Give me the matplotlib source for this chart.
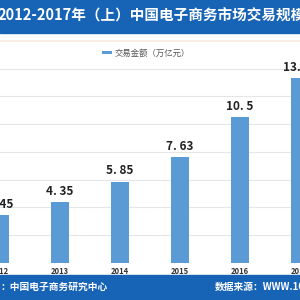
import matplotlib
matplotlib.use("Agg")
import matplotlib.pyplot as plt
from matplotlib.patches import Rectangle

plt.rcParams['font.family'] = ['Noto Sans CJK SC', 'DejaVu Sans']

years = ['2012', '2013', '2014', '2015', '2016', '2017']
values = [3.45, 4.35, 5.85, 7.63, 10.5, 13.35]
title = '2012-2017年（上）中国电子商务市场交易规模'
legend_label = '交易金额（万亿元）'
source_left = '：中国电子商务研究中心'
source_right = '数据来源：WWW.100EC.CN'

banner_blue = '#1763b6'
bar_blue = '#5b9bd5'


def main():
    fig = plt.figure(figsize=(3, 3), dpi=100)
    fig.patch.set_facecolor('white')

    # top and bottom banners
    fig.patches.append(Rectangle((0, 0.89), 1, 0.11, transform=fig.transFigure,
                                 color=banner_blue, zorder=0))
    fig.patches.append(Rectangle((0, 0), 1, 0.082, transform=fig.transFigure,
                                 color=banner_blue, zorder=0))
    fig.text(-0.008, 0.948, title, color='white', fontsize=10.5,
             fontweight='bold', va='center', ha='left')
    fig.text(0.0, 0.044, source_left, color='white', fontsize=7,
             fontweight='bold', va='center', ha='left')
    fig.text(0.715, 0.044, source_right, color='white', fontsize=7,
             fontweight='bold', va='center', ha='left')

    ax = fig.add_axes([0, 0.1243, 1, 0.739])
    x = list(range(len(years)))
    bars = ax.bar(x, values, width=0.3, color=bar_blue, zorder=3,
                  label=legend_label)
    for rect, v in zip(bars, values):
        ax.annotate(str(v).replace('.', '. '),
                    (rect.get_x() + rect.get_width() / 2, v),
                    xytext=(0, 3), textcoords='offset points',
                    ha='center', va='bottom', fontsize=8.5,
                    fontweight='bold', color='#222222', zorder=4)

    ax.set_xlim(0.126, 4.85)
    ax.set_ylim(0, 16)
    ax.set_yticks(range(2, 16, 2))
    ax.yaxis.grid(True, color='#e6e6e6', linewidth=0.8, zorder=0)
    ax.tick_params(axis='y', length=0, labelleft=False)
    ax.set_xticks(x)
    ax.set_xticklabels(years, fontsize=5.5, fontweight='bold', color='#333333')
    ax.tick_params(axis='x', length=0, pad=3)
    for side in ['left', 'right', 'bottom']:
        ax.spines[side].set_visible(False)
    ax.spines['top'].set_color('#fbe9df')
    ax.spines['top'].set_linewidth(1.2)

    leg = ax.legend(loc='center left', bbox_to_anchor=(0.315, 0.823),
                    bbox_transform=fig.transFigure, frameon=False,
                    fontsize=6, handlelength=1.2, handleheight=0.25,
                    handletextpad=0.3)
    for t in leg.get_texts():
        t.set_color('#555555')

    fig.savefig('out.png', dpi=100)


if __name__ == "__main__":
    main()
